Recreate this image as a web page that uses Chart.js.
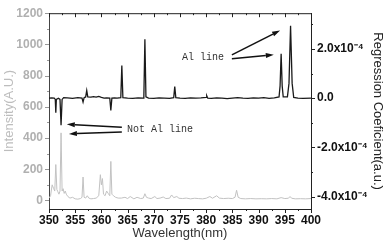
<!DOCTYPE html>
<html>
<head>
<meta charset="utf-8">
<script src="https://cdn.jsdelivr.net/npm/chart.js@4.4.1/dist/chart.umd.min.js"></script>
<style>
  html, body { margin: 0; padding: 0; background: #fff; }
  canvas { display: block; }
</style>
</head>
<body>
<canvas id="chart" width="385" height="242"></canvas>
<script>
// grey spectrum (left axis, intensity A.U.)
const waveGrey = [350.0, 350.3, 350.6, 350.9, 351.1, 351.3, 351.5, 351.7, 351.9, 352.1, 352.3, 352.5, 352.7, 352.9, 353.1, 353.3, 353.6, 354.0, 354.5, 355.0,
  355.5, 356.0, 356.3, 356.5, 356.7, 357.0, 357.3, 357.6, 358.0, 358.5, 359.0, 359.5, 359.8, 360.0, 360.2, 360.4, 360.7, 361.0, 361.3, 361.6,
  361.8, 362.0, 362.3, 362.7, 363.2, 363.8, 364.5, 365.0, 365.5, 366.2, 366.8, 367.5, 368.0, 368.3, 368.6, 369.0, 369.5, 370.2, 370.6, 371.2,
  371.8, 372.3, 373.0, 373.4, 373.8, 374.4, 374.8, 375.5, 376.2, 377.0, 377.8, 378.5, 379.3, 380.0, 380.7, 381.2, 382.0, 382.5, 383.3, 384.2,
  385.0, 385.5, 385.8, 386.1, 386.6, 387.5, 388.5, 389.5, 390.5, 391.5, 392.5, 393.5, 394.3, 395.0, 395.7, 396.0, 396.3, 397.0, 398.0, 399.0, 400.0];
const intensity = [15, 30, 100, 75, 60, 230, 70, 55, 40, 60, 433, 60, 75, 45, 60, 40, 25, 15, 20, 10,
  8, 12, 20, 150, 20, 15, 30, 15, 10, 12, 15, 30, 165, 100, 140, 40, 30, 60, 45, 30,
  250, 40, 30, 20, 15, 15, 20, 12, 25, 10, 20, 12, 15, 43, 20, 15, 12, 25, 12, 15,
  22, 12, 14, 35, 18, 25, 14, 12, 15, 10, 14, 12, 10, 14, 25, 14, 30, 15, 12, 14,
  12, 20, 65, 20, 12, 10, 12, 10, 11, 10, 12, 10, 18, 12, 14, 25, 14, 10, 11, 10, 12];

// black regression coefficients (right axis, units of 1e-4)
const waveCoef = [350.0, 350.5, 351.0, 351.2, 351.3, 351.4, 351.8, 352.1, 352.3, 352.5, 352.8, 353.5, 354.5, 355.5, 356.3, 356.5, 356.7, 357.0, 357.2, 357.4,
  358.0, 358.5, 359.0, 359.5, 360.0, 360.5, 361.0, 361.6, 361.8, 362.0, 362.5, 363.0, 363.7, 363.9, 364.1, 365.0, 366.0, 367.0, 368.0, 368.1,
  368.3, 368.5, 369.0, 370.0, 371.0, 372.0, 373.0, 373.8, 374.0, 374.2, 375.0, 376.0, 377.0, 378.0, 379.0, 380.0, 380.1, 380.3, 381.0, 382.0,
  383.0, 384.0, 385.0, 386.0, 387.0, 388.0, 389.0, 390.0, 391.0, 392.0, 393.0, 393.9, 394.1, 394.3, 394.5, 394.7, 395.5, 395.8, 396.1, 396.4,
  396.7, 397.5, 398.5, 400.0];
const coef = [0.0, 0.01, 0.0, -0.05, -0.59, -0.05, 0.0, -0.05, -1.1, -0.05, 0.02, 0.01, -0.01, 0.02, 0.0, -0.16, 0.02, 0.05, 0.31, 0.05,
  0.04, 0.06, 0.04, 0.07, 0.03, 0.0, 0.01, 0.0, -0.5, 0.0, 0.01, 0.0, 0.02, 1.33, 0.02, 0.0, -0.01, 0.01, 0.0, 0.05,
  2.39, 0.05, 0.0, -0.01, 0.01, 0.0, -0.01, 0.02, 0.47, 0.02, 0.0, -0.01, 0.01, 0.0, 0.01, 0.03, 0.1, 0.0, -0.01, 0.01,
  0.0, -0.02, 0.0, 0.02, 0.0, -0.01, 0.01, 0.0, 0.02, -0.01, 0.01, 0.05, 0.5, 1.8, 0.5, 0.05, 0.05, 0.6, 2.94, 0.6,
  0.03, 0.0, -0.01, 0.0];

// axis ticks
const waveTicks = [350, 355, 360, 365, 370, 375, 380, 385, 390, 395, 400];
const intensityTicks = [0, 200, 400, 600, 800, 1000, 1200];
const coefTicks = [-4, -2, 0, 2];

// annotations, in data units (wavelength, coefficient)
const notes = [
  { text: 'Al line', at: [375.4, 1.65], arrows: [[384.9, 1.76, 394.1, 2.75], [384.9, 1.6, 392.9, 1.76]] },
  { text: 'Not Al line', at: [364.9, -1.25], arrows: [[363.9, -1.18, 353.4, -1.06], [363.9, -1.37, 353.8, -1.45]] },
];

const tickFont = { family: 'Liberation Sans, Arial, sans-serif', size: 12, weight: 'bold' };
const titleFont = { family: 'Liberation Sans, Arial, sans-serif', size: 13 };

const extras = {
  id: 'extras',
  afterDraw(chart) {
    const { ctx, chartArea: a, scales } = chart;
    const x = scales.x, yl = scales.yInt, yr = scales.yCoef;
    ctx.save();
    // top frame line
    ctx.strokeStyle = '#222';
    ctx.lineWidth = 1;
    ctx.beginPath();
    ctx.moveTo(a.left, a.top + 0.5);
    ctx.lineTo(a.right, a.top + 0.5);
    ctx.stroke();

    const mark = (x1, y1, x2, y2, col) => {
      ctx.strokeStyle = col;
      ctx.beginPath();
      ctx.moveTo(x1, y1);
      ctx.lineTo(x2, y2);
      ctx.stroke();
    };
    // x ticks: bottom outward, top inward
    for (let v = 350; v <= 400; v += 2.5) {
      const px = Math.round(x.getPixelForValue(v)) + 0.5;
      const len = v % 5 === 0 ? 4 : 2;
      mark(px, a.bottom, px, a.bottom + len, '#222');
      mark(px, a.top, px, a.top + len, '#222');
    }
    // left ticks
    for (let v = 0; v <= 1200; v += 100) {
      const py = Math.round(yl.getPixelForValue(v)) + 0.5;
      const len = v % 200 === 0 ? 4 : 2;
      mark(a.left - len, py, a.left, py, '#999');
    }
    // right ticks
    for (let v = -4; v <= 3; v += 1) {
      const py = Math.round(yr.getPixelForValue(v)) + 0.5;
      const len = v % 2 === 0 ? 4 : 2;
      mark(a.right, py, a.right + len, py, '#222');
    }

    // annotations
    ctx.font = '10px "Liberation Mono", "Courier New", monospace';
    ctx.fillStyle = '#333';
    ctx.textBaseline = 'middle';
    ctx.lineWidth = 1.5;
    notes.forEach(n => {
      ctx.fillText(n.text, x.getPixelForValue(n.at[0]), yr.getPixelForValue(n.at[1]));
      n.arrows.forEach(r => {
        const x1 = x.getPixelForValue(r[0]), y1 = yr.getPixelForValue(r[1]);
        const x2 = x.getPixelForValue(r[2]), y2 = yr.getPixelForValue(r[3]);
        const ang = Math.atan2(y2 - y1, x2 - x1);
        const hl = 8, hw = 2.5;
        const bx = x2 - hl * Math.cos(ang), by = y2 - hl * Math.sin(ang);
        ctx.strokeStyle = '#111';
        ctx.beginPath();
        ctx.moveTo(x1, y1);
        ctx.lineTo(bx, by);
        ctx.stroke();
        ctx.fillStyle = '#111';
        ctx.beginPath();
        ctx.moveTo(x2, y2);
        ctx.lineTo(bx - hw * Math.sin(ang), by + hw * Math.cos(ang));
        ctx.lineTo(bx + hw * Math.sin(ang), by - hw * Math.cos(ang));
        ctx.closePath();
        ctx.fill();
        ctx.fillStyle = '#333';
      });
    });
    ctx.restore();
  }
};

new Chart(document.getElementById('chart'), {
  type: 'line',
  data: {
    datasets: [
      {
        label: 'Intensity',
        data: waveGrey.map((w, i) => ({ x: w, y: intensity[i] })),
        yAxisID: 'yInt',
        borderColor: '#c2c2c2',
        borderWidth: 1,
        pointRadius: 0,
        tension: 0,
      },
      {
        label: 'Regression Coeficient',
        data: waveCoef.map((w, i) => ({ x: w, y: coef[i] })),
        yAxisID: 'yCoef',
        borderColor: '#1a1a1a',
        borderWidth: 1.3,
        pointRadius: 0,
        tension: 0,
      },
    ],
  },
  options: {
    responsive: false,
    animation: false,
    devicePixelRatio: 1,
    layout: { padding: { top: 6, left: 0, right: 0, bottom: 0 } },
    plugins: { legend: { display: false }, tooltip: { enabled: false } },
    scales: {
      x: {
        type: 'linear',
        min: 350,
        max: 400,
        afterBuildTicks: (s) => { s.ticks = waveTicks.map(v => ({ value: v })); },
        afterFit: (s) => { s.height = 33; },
        grid: { display: false, drawTicks: false },
        border: { display: true, color: '#222', width: 1 },
        ticks: { color: '#111', font: tickFont, padding: 4, maxRotation: 0, autoSkip: false, callback: (v) => String(v) },
        title: { display: true, text: 'Wavelength(nm)', color: '#333', font: titleFont, padding: { top: 0, bottom: 1 } },
      },
      yInt: {
        type: 'linear',
        position: 'left',
        min: -55,
        max: 1200,
        afterBuildTicks: (s) => { s.ticks = intensityTicks.map(v => ({ value: v })); },
        afterFit: (s) => { s.width = 49; },
        grid: { display: false, drawTicks: false },
        border: { display: true, color: '#444', width: 1 },
        ticks: { color: '#b0b0b0', font: tickFont, padding: 6, callback: (v) => String(v) },
        title: { display: true, text: 'Intensity(A.U.)', color: '#bdbdbd', font: titleFont, padding: { top: 2, bottom: 0 } },
      },
      yCoef: {
        type: 'linear',
        position: 'right',
        min: -4.5,
        max: 3.45,
        afterBuildTicks: (s) => { s.ticks = coefTicks.map(v => ({ value: v })); },
        afterFit: (s) => { s.width = 74; },
        grid: { display: false, drawTicks: false },
        border: { display: true, color: '#222', width: 1 },
        ticks: {
          color: '#111',
          font: tickFont,
          padding: 6,
          callback: (v) => v === 0 ? '0.0' : v.toFixed(1) + 'x10\u207B\u2074',
        },
        title: { display: true, text: 'Regression Coeficient(a.u.)', color: '#222', font: titleFont, padding: { top: 0, bottom: 2 } },
      },
    },
  },
  plugins: [extras],
});
</script>
</body>
</html>
